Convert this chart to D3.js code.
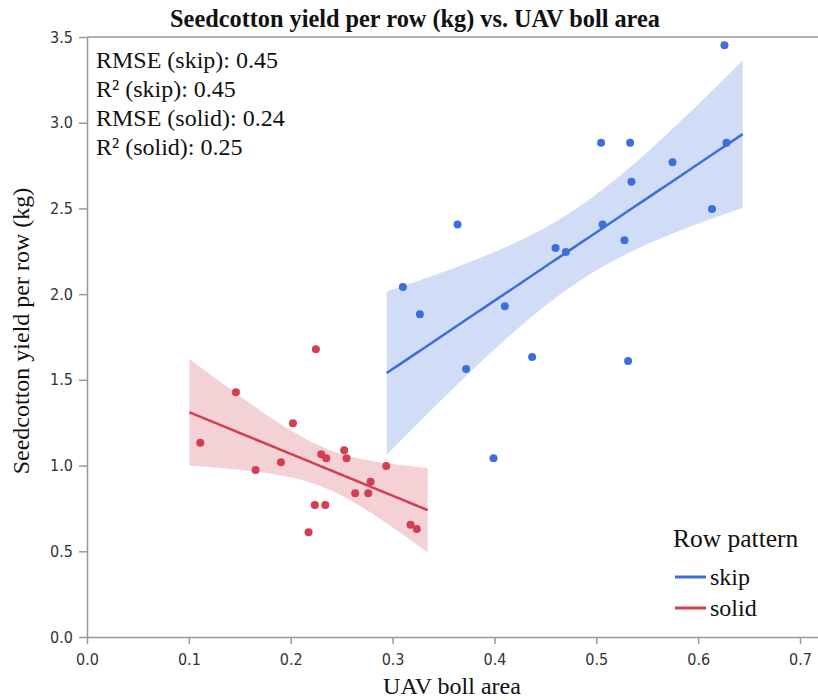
<!DOCTYPE html>
<html>
<head>
<meta charset="utf-8">
<script src="https://cdn.jsdelivr.net/npm/d3@7"></script>
<style>
  body { margin: 0; background: #fff; }
  svg { display: block; }
  .serif { font-family: "Liberation Serif", "Times New Roman", serif; fill: #111; }
  .tick text { font-family: "DejaVu Sans Condensed", "DejaVu Sans", sans-serif; font-stretch: condensed; font-size: 16px; fill: #333; }
</style>
</head>
<body>
<svg id="chart" width="818" height="700"></svg>
<script>
// UAV boll area vs. seedcotton yield, skip-row plots
const skipArea = [0.6258, 0.5047, 0.5332, 0.6278, 0.5748, 0.5345, 0.6136, 0.3638, 0.5062, 0.5277,
                  0.4600, 0.4701, 0.3101, 0.3268, 0.4102, 0.3722, 0.4370, 0.5312, 0.3991];
const skipYield = [3.452, 2.883, 2.883, 2.883, 2.769, 2.656, 2.497, 2.406, 2.406, 2.314,
                   2.269, 2.246, 2.042, 1.882, 1.929, 1.563, 1.633, 1.610, 1.042];

// solid-row plots
const solidArea = [0.2247, 0.1462, 0.2022, 0.1112, 0.2525, 0.2300, 0.2349, 0.2548, 0.2938, 0.1904,
                   0.1655, 0.2784, 0.2633, 0.2761, 0.2237, 0.2339, 0.2175, 0.3176, 0.3238];
const solidYield = [1.678, 1.427, 1.247, 1.133, 1.089, 1.066, 1.042, 1.042, 0.9975, 1.019,
                    0.974, 0.906, 0.838, 0.838, 0.770, 0.770, 0.611, 0.655, 0.630];

const seriesNames = ["skip", "solid"];
const seriesColors = ["#3d6fdc", "#d13f50"];
const xTicks = [0, 0.1, 0.2, 0.3, 0.4, 0.5, 0.6, 0.7];
const yTicks = [0, 0.5, 1.0, 1.5, 2.0, 2.5, 3.0, 3.5];
const statLabels = ["RMSE (skip): 0.45", "R\u00b2 (skip): 0.45", "RMSE (solid): 0.24", "R\u00b2 (solid): 0.25"];
const titleText = "Seedcotton yield per row (kg) vs. UAV boll area";
const xTitle = "UAV boll area";
const yTitle = "Seedcotton yield per row (kg)";
const legendTitle = "Row pattern";

// two-sided 95% Student t critical value for df = n - 2 = 17
const tCrit = 2.1098;

const svg = d3.select("#chart");
const plotLeft = 87, plotRight = 820.4, plotTop = 37, plotBottom = 637;

const x = d3.scaleLinear().domain([0, 0.72]).range([plotLeft, plotRight]);
const y = d3.scaleLinear().domain([0, 3.5]).range([plotBottom, plotTop]);

// ordinary least squares fit with 95% confidence band for the mean
function olsFit(xs, ys) {
  const n = xs.length;
  const mx = d3.mean(xs), my = d3.mean(ys);
  let sxx = 0, sxy = 0;
  xs.forEach((v, i) => { sxx += (v - mx) ** 2; sxy += (v - mx) * (ys[i] - my); });
  const b = sxy / sxx, a = my - b * mx;
  let sse = 0;
  xs.forEach((v, i) => { sse += (ys[i] - (a + b * v)) ** 2; });
  const s = Math.sqrt(sse / (n - 2));
  const [lo, hi] = d3.extent(xs);
  const pad = (hi - lo) * 0.05;
  const grid = d3.range(0, 61).map(k => lo - pad + (hi - lo + 2 * pad) * k / 60);
  return grid.map(g => {
    const fit = a + b * g;
    const hw = tCrit * s * Math.sqrt(1 / n + (g - mx) ** 2 / sxx);
    return { x: g, fit, lo: fit - hw, hi: fit + hw };
  });
}

const series = [
  { name: seriesNames[0], color: seriesColors[0], xs: skipArea, ys: skipYield },
  { name: seriesNames[1], color: seriesColors[1], xs: solidArea, ys: solidYield }
];
series.forEach(sr => { sr.fit = olsFit(sr.xs, sr.ys); });

// axes
const xAxis = d3.axisBottom(x).tickValues(xTicks).tickFormat(d3.format(".1f")).tickSizeInner(7).tickSizeOuter(0).tickPadding(10);
const yAxis = d3.axisLeft(y).tickValues(yTicks).tickFormat(d3.format(".1f")).tickSizeInner(8).tickSizeOuter(0).tickPadding(6);

const gx = svg.append("g").attr("transform", `translate(0,${plotBottom})`).call(xAxis);
const gy = svg.append("g").attr("transform", `translate(${plotLeft},0)`).call(yAxis);
[gx, gy].forEach(g => {
  g.select(".domain").attr("stroke", "#999").attr("stroke-width", 1.5);
  g.selectAll(".tick line").attr("stroke", "#999").attr("stroke-width", 1.5);
});

// top frame line
svg.append("line")
  .attr("x1", plotLeft).attr("x2", plotRight).attr("y1", plotTop).attr("y2", plotTop)
  .attr("stroke", "#999").attr("stroke-width", 1.5);

// confidence bands, fit lines, points
const band = d3.area().x(d => x(d.x)).y0(d => y(d.lo)).y1(d => y(d.hi));
const line = d3.line().x(d => x(d.x)).y(d => y(d.fit));

series.forEach(sr => {
  svg.append("path").datum(sr.fit)
    .attr("d", band).attr("fill", sr.color).attr("fill-opacity", 0.24);
});
series.forEach(sr => {
  svg.append("path").datum(sr.fit)
    .attr("d", line).attr("fill", "none").attr("stroke", sr.color).attr("stroke-width", 2.5);
});
series.forEach(sr => {
  svg.append("g").selectAll("circle")
    .data(sr.xs.map((v, i) => [v, sr.ys[i]]))
    .join("circle")
    .attr("cx", d => x(d[0])).attr("cy", d => y(d[1])).attr("r", 4)
    .attr("fill", sr.color);
});

// title
svg.append("text").attr("class", "serif")
  .attr("x", 415).attr("y", 27).attr("text-anchor", "middle")
  .attr("font-size", 24.3).attr("font-weight", "bold").text(titleText);

// fit statistics
svg.append("g").selectAll("text").data(statLabels).join("text")
  .attr("class", "serif").attr("font-size", 24)
  .attr("x", 96).attr("y", (d, i) => 68 + i * 29).text(d => d);

// axis titles
svg.append("text").attr("class", "serif").attr("font-size", 24)
  .attr("x", 452).attr("y", 694).attr("text-anchor", "middle").text(xTitle);
svg.append("text").attr("class", "serif").attr("font-size", 24)
  .attr("transform", "translate(29,331) rotate(-90)")
  .attr("text-anchor", "middle").text(yTitle);

// legend
const lg = svg.append("g");
lg.append("text").attr("class", "serif").attr("font-size", 25.5)
  .attr("x", 673).attr("y", 547).text(legendTitle);
series.forEach((sr, i) => {
  const cy = 577 + i * 31;
  lg.append("line").attr("x1", 675).attr("x2", 706).attr("y1", cy).attr("y2", cy)
    .attr("stroke", sr.color).attr("stroke-width", 3);
  lg.append("text").attr("class", "serif").attr("font-size", 24)
    .attr("x", 710).attr("y", cy + 8).text(sr.name);
});
</script>
</body>
</html>
